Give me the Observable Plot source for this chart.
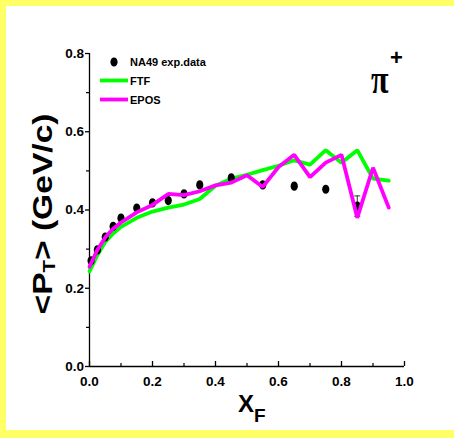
<!DOCTYPE html>
<html>
<head>
<meta charset="utf-8">
<script src="https://cdn.jsdelivr.net/npm/d3@7"></script>
<script src="https://cdn.jsdelivr.net/npm/@observablehq/plot@0.6"></script>
<style>
  html, body { margin: 0; padding: 0; }
  body { width: 454px; height: 438px; background: #FFFF66; position: relative; overflow: hidden; }
  #panel { position: absolute; left: 6px; top: 6px; width: 448px; height: 424px; background: #ffffff; }
  #chart { position: absolute; left: 0; top: 0; }
</style>
</head>
<body>
<div id="panel"></div>
<div id="chart"></div>
<script>
// NA49 experimental data
const dataX = [0.005, 0.025, 0.05, 0.075, 0.1, 0.15, 0.2, 0.25, 0.3, 0.35, 0.45, 0.55, 0.65, 0.75, 0.85];
const dataY = [0.27, 0.298, 0.331, 0.358, 0.379, 0.405, 0.418, 0.424, 0.441, 0.464, 0.482, 0.464, 0.461, 0.453, 0.41];
const dataErr = [0, 0, 0, 0, 0, 0, 0, 0, 0, 0, 0, 0, 0, 0, 0.026];

// Model curves
const modelX = [0, 0.025, 0.05, 0.075, 0.1, 0.15, 0.2, 0.25, 0.3, 0.35, 0.4, 0.45, 0.5, 0.55, 0.6, 0.65, 0.7, 0.75, 0.8, 0.85, 0.9, 0.95];
const ftfY  = [0.243, 0.285, 0.318, 0.340, 0.357, 0.380, 0.396, 0.406, 0.414, 0.428, 0.462, 0.480, 0.490, 0.502, 0.513, 0.527, 0.516, 0.553, 0.521, 0.553, 0.480, 0.475];
const eposY = [0.255, 0.298, 0.330, 0.352, 0.368, 0.394, 0.413, 0.441, 0.438, 0.448, 0.463, 0.470, 0.489, 0.459, 0.510, 0.541, 0.484, 0.521, 0.541, 0.380, 0.508, 0.406];

const seriesNames = ["NA49 exp.data", "FTF", "EPOS"];
const seriesColors = ["#000000", "#00FF00", "#FF00FF"];

const xMajor = [0, 0.2, 0.4, 0.6, 0.8, 1.0];
const xMinor = [0.1, 0.3, 0.5, 0.7, 0.9];
const yMajor = [0, 0.2, 0.4, 0.6, 0.8];
const yMinor = [0.1, 0.3, 0.5, 0.7];

const dataRows = dataX.map((x, i) => ({x, y: dataY[i], e: dataErr[i]}));
const errRows = dataRows.filter(d => d.e > 0);
const ftfRows = modelX.map((x, i) => ({x, y: ftfY[i]}));
const eposRows = modelX.map((x, i) => ({x, y: eposY[i]}));

// ellipse symbol (markers appear slightly taller than wide)
const ellipseSymbol = {
  draw(ctx, size) {
    const rx = 3.6, ry = 4.6, k = 0.5523;
    ctx.moveTo(rx, 0);
    ctx.bezierCurveTo(rx, ry * k, rx * k, ry, 0, ry);
    ctx.bezierCurveTo(-rx * k, ry, -rx, ry * k, -rx, 0);
    ctx.bezierCurveTo(-rx, -ry * k, -rx * k, -ry, 0, -ry);
    ctx.bezierCurveTo(rx * k, -ry, rx, -ry * k, rx, 0);
    ctx.closePath();
  }
};
const capSymbol = {
  draw(ctx, size) { ctx.moveTo(-3, 0); ctx.lineTo(3, 0); }
};

const font = "'Liberation Sans', Arial, Helvetica, sans-serif";

const plot = Plot.plot({
  width: 454,
  height: 438,
  marginLeft: 89,
  marginRight: 50,
  marginTop: 53,
  marginBottom: 72,
  style: {background: "none", overflow: "visible", fontFamily: font},
  x: {domain: [0, 1]},
  y: {domain: [0, 0.8]},
  marks: [
    Plot.ruleX([0], {stroke: "#000", strokeWidth: 1.3}),
    Plot.ruleY([0], {stroke: "#000", strokeWidth: 1.3}),
    Plot.axisX(xMajor, {tickSize: -5, fill: "none", label: null, strokeWidth: 1.3}),
    Plot.axisX(xMinor, {tickSize: -3, fill: "none", label: null, strokeWidth: 1.2}),
    Plot.axisX(xMajor, {tickSize: 0, tickPadding: 10, tickFormat: d3.format(".1f"), label: null,
      fontSize: 13.5, fontWeight: "bold", fill: "#000"}),
    Plot.axisY(yMajor, {tickSize: 4, fill: "none", label: null, strokeWidth: 1.3}),
    Plot.axisY(yMinor, {tickSize: 3, fill: "none", label: null, strokeWidth: 1.2}),
    Plot.axisY(yMajor, {tickSize: 0, tickPadding: 5.5, tickFormat: d3.format(".1f"), label: null,
      fontSize: 13.5, fontWeight: "bold", fill: "#000"}),
    Plot.line(ftfRows, {x: "x", y: "y", stroke: seriesColors[1], strokeWidth: 3.8, strokeLinejoin: "miter"}),
    Plot.ruleX(errRows, {x: "x", y1: d => d.y - d.e, y2: d => d.y + d.e, stroke: "#333", strokeWidth: 1}),
    Plot.dot(errRows, {x: "x", y: d => d.y - d.e, symbol: capSymbol, stroke: "#333", strokeWidth: 1, fill: "none"}),
    Plot.dot(errRows, {x: "x", y: d => d.y + d.e, symbol: capSymbol, stroke: "#333", strokeWidth: 1, fill: "none"}),
    Plot.dot(dataRows, {x: "x", y: "y", symbol: ellipseSymbol, fill: seriesColors[0], stroke: "none"}),
    Plot.line(eposRows, {x: "x", y: "y", stroke: seriesColors[2], strokeWidth: 3.8, strokeLinejoin: "miter"})
  ]
});

document.getElementById("chart").appendChild(plot);

// Annotations: axis titles, legend, particle label
const svg = d3.select(plot);
const g = svg.append("g").attr("fill", "#000").attr("font-family", font)
  .attr("font-weight", "bold").attr("text-anchor", "start");

// y-axis title
const yt = g.append("text")
  .attr("transform", "translate(52,214) rotate(-90) scale(1.2,1)")
  .attr("text-anchor", "middle")
  .attr("font-size", 28);
yt.append("tspan").text("<P");
yt.append("tspan").attr("font-size", 17).attr("dy", 3).text("T");
yt.append("tspan").attr("dy", -3).text("> (GeV/c)");

// x-axis title
const xt = g.append("text")
  .attr("x", 238).attr("y", 412)
  .attr("font-size", 24);
xt.append("tspan").text("X");
xt.append("tspan").attr("font-size", 19).attr("dy", 10).text("F");

// particle label
g.append("text").attr("transform", "translate(371,93) scale(0.8,1)")
  .attr("font-family", "'Liberation Serif', 'DejaVu Serif', serif")
  .attr("font-size", 40).text("π");
g.append("text").attr("x", 390).attr("y", 65)
  .attr("font-size", 22).text("+");

// legend
const leg = g.append("g").attr("font-size", 11);
const legY = [62, 80.5, 99.5];
svg.append("path")
  .attr("transform", `translate(114,${legY[0]})`)
  .attr("d", () => { const p = d3.path(); ellipseSymbol.draw(p, 0); return p.toString(); })
  .attr("fill", seriesColors[0]);
[1, 2].forEach(i => {
  svg.append("line")
    .attr("x1", 100).attr("x2", 128).attr("y1", legY[i]).attr("y2", legY[i])
    .attr("stroke", seriesColors[i]).attr("stroke-width", 3.8);
});
seriesNames.forEach((name, i) => {
  leg.append("text").attr("x", 130).attr("y", legY[i] + 4).text(name);
});
</script>
</body>
</html>
